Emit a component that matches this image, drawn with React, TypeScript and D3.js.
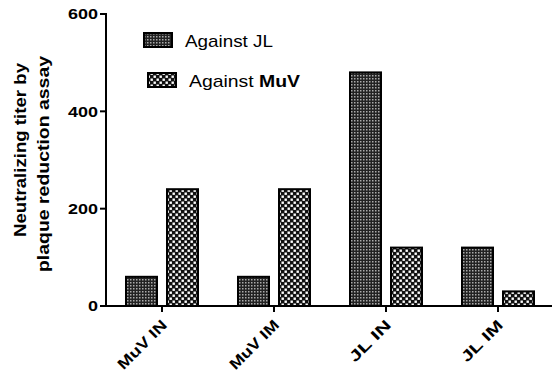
import React from "react";
import * as d3 from "d3";

const categories = ["MuV IN", "MuV IM", "JL IN", "JL IM"];
const series = ["Against JL", "Against MuV"];
const againstJL = [60, 60, 480, 120];
const againstMuV = [240, 240, 120, 30];
const yTicks = [0, 200, 400, 600];

const W = 552;
const H = 378;
const font = "Liberation Sans, Arial, sans-serif";

const App = () => {
  const x0 = d3.scaleBand<string>().domain(categories).range([106, 554]);
  const x1 = d3
    .scaleBand<string>()
    .domain(series)
    .range([20, 92])
    .paddingInner(10 / 41);
  const y = d3.scaleLinear().domain([0, 600]).range([306, 14]);

  const values = [againstJL, againstMuV];
  const fills = ["url(#patJL)", "url(#patMuV)"];

  return (
    <svg
      width={W}
      height={H}
      style={{ position: "absolute", left: 0, top: 0, background: "#fff" }}
    >
      <defs>
        <pattern id="patJL" width="3" height="3" patternUnits="userSpaceOnUse">
          <rect width="3" height="3" fill="#222" />
          <rect width="1.5" height="1.5" fill="#aaa" />
        </pattern>
        <pattern id="patMuV" width="6" height="6" patternUnits="userSpaceOnUse">
          <rect width="6" height="6" fill="#111" />
          <rect x="0.5" y="0.5" width="2.4" height="2.4" fill="#fff" />
          <rect x="3.5" y="3.5" width="2.4" height="2.4" fill="#fff" />
        </pattern>
      </defs>

      {/* bars */}
      {categories.map((c, i) => (
        <g key={c} transform={`translate(${x0(c)},0)`}>
          {series.map((s, k) => (
            <rect
              key={s}
              x={x1(s)}
              y={y(values[k][i])}
              width={x1.bandwidth()}
              height={y(0) - y(values[k][i])}
              fill={fills[k]}
              stroke="#000"
              strokeWidth={2}
            />
          ))}
        </g>
      ))}

      {/* y axis */}
      <line x1={106} x2={106} y1={y(600) - 1} y2={y(0) + 1} stroke="#000" strokeWidth={2} />
      {yTicks.map((t) => (
        <g key={t}>
          <line x1={100} x2={106} y1={y(t)} y2={y(t)} stroke="#000" strokeWidth={2} />
          <text
            x={98}
            y={y(t)}
            dy="0.36em"
            textAnchor="end"
            fontFamily={font}
            fontWeight="bold"
            fontSize={15}
            textLength={String(t).length * 10}
            lengthAdjust="spacingAndGlyphs"
          >
            {t}
          </text>
        </g>
      ))}

      {/* x axis */}
      <line x1={105} x2={W} y1={y(0)} y2={y(0)} stroke="#000" strokeWidth={2} />
      {categories.map((c) => {
        const cx = (x0(c) as number) + x0.bandwidth() / 2;
        return (
          <g key={c}>
            <line x1={cx} x2={cx} y1={y(0)} y2={y(0) + 6} stroke="#000" strokeWidth={2} />
            <text
              transform={`translate(${cx + 6},${y(0) + 20}) rotate(-45)`}
              textAnchor="end"
              fontFamily={font}
              fontWeight="bold"
              fontSize={15}
              textLength={c.length * 10.5}
              lengthAdjust="spacingAndGlyphs"
            >
              {c}
            </text>
          </g>
        );
      })}

      {/* y title */}
      <text
        transform="translate(26,150) rotate(-90)"
        textAnchor="middle"
        fontFamily={font}
        fontWeight="bold"
        fontSize={17}
        textLength={174}
        lengthAdjust="spacingAndGlyphs"
      >
        Neutralizing titer by
      </text>
      <text
        transform="translate(49,164) rotate(-90)"
        textAnchor="middle"
        fontFamily={font}
        fontWeight="bold"
        fontSize={17}
        textLength={216}
        lengthAdjust="spacingAndGlyphs"
      >
        plaque reduction assay
      </text>

      {/* legend */}
      <rect x={144} y={33} width={28} height={14} fill="url(#patJL)" stroke="#000" strokeWidth={2} />
      <text
        x={185}
        y={47}
        fontFamily={font}
        fontSize={17}
        textLength={88}
        lengthAdjust="spacingAndGlyphs"
      >
        Against JL
      </text>
      <rect x={148} y={73} width={28} height={14} fill="url(#patMuV)" stroke="#000" strokeWidth={2} />
      <text
        x={189}
        y={87}
        fontFamily={font}
        fontSize={17}
        textLength={111}
        lengthAdjust="spacingAndGlyphs"
      >
        Against <tspan fontWeight="bold">MuV</tspan>
      </text>
    </svg>
  );
};

export default App;
